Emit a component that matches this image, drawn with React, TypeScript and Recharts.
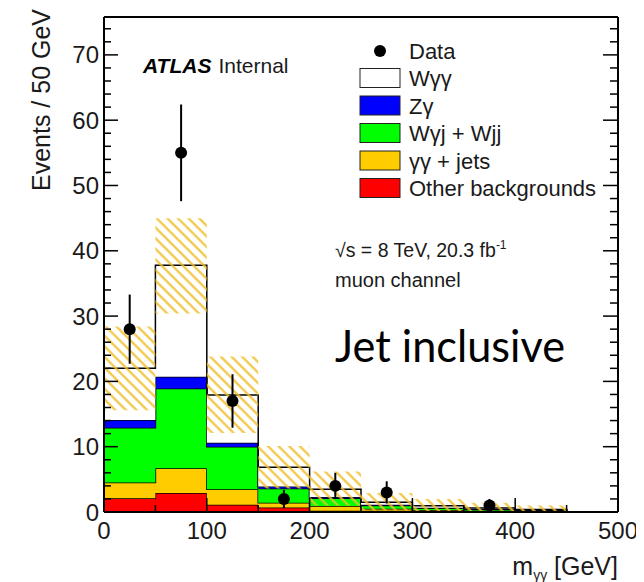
import { ComposedChart, Area, Scatter, ErrorBar, XAxis, YAxis } from "recharts";

// bins of 50 GeV, stacked backgrounds (component values, not cumulative)
const binEdges = [0, 50, 100, 150, 200, 250, 300, 350, 400, 450, 500];
const otherBkg = [2.1, 2.9, 1.1, 0.7, 0.2, 0.2, 0.1, 0.05, 0.03, 0];
const ggJets = [2.4, 3.8, 2.4, 0.7, 0.7, 0.3, 0.2, 0.15, 0.07, 0];
const wgjWjj = [8.4, 12.2, 6.5, 2.2, 1.2, 0.5, 0.3, 0.2, 0.15, 0];
const zGamma = [1.2, 1.8, 0.6, 0.3, 0.2, 0.1, 0.05, 0.05, 0.05, 0];
const wGG = [7.9, 17.1, 7.3, 2.95, 1.2, 0.4, 0.3, 0.15, 0.1, 0];
const bandLow = [15.6, 30.4, 12.1, 3.6, 1.0, 0.2, 0, 0, 0, 0];
const bandHigh = [28.4, 45.0, 23.8, 10.1, 6.2, 2.9, 2.0, 1.4, 1.0, 0];

// data points
const dataX = [25, 75, 125, 175, 225, 275, 375];
const dataY = [28, 55, 17, 2, 4, 3, 1];
const dataErr = [5.3, 7.4, 4.1, 1.4, 2.0, 1.7, 1.0];

const xTicks = [0, 50, 100, 150, 200, 250, 300, 350, 400, 450, 500];
const yTicks = [
  0, 2, 4, 6, 8, 10, 12, 14, 16, 18, 20, 22, 24, 26, 28, 30, 32, 34, 36, 38,
  40, 42, 44, 46, 48, 50, 52, 54, 56, 58, 60, 62, 64, 66, 68, 70, 72, 74,
];
const Y_MAX = 75.8;

const legendItems = [
  { name: "Wγγ", color: "#ffffff" },
  { name: "Zγ", color: "#0000ff" },
  { name: "Wγj + Wjj", color: "#00ff00" },
  { name: "γγ + jets", color: "#ffcc00" },
  { name: "Other backgrounds", color: "#ff0000" },
];

const FONT = "'Liberation Sans', Arial, Helvetica, sans-serif";
const INK = "#1a1a1a";

// histogram rows at bin edges; closing edge repeats the last bin
const rows = binEdges.map((x, i) => {
  const j = Math.min(i, otherBkg.length - 1);
  return {
    x,
    other: otherBkg[j],
    gg: ggJets[j],
    wgj: wgjWjj[j],
    zg: zGamma[j],
    wgg: wGG[j],
    band: [bandLow[j], bandHigh[j]],
  };
});

const points = dataX.map((x, i) => ({ x, y: dataY[i], err: dataErr[i] }));

const BottomTick = ({ x, y, payload }: any) => {
  const major = payload.value % 100 === 0;
  return (
    <g>
      <line x1={x} y1={y} x2={x} y2={y - (major ? 14 : 7)} stroke="#000" strokeWidth={1.5} />
      {major && (
        <text x={x} y={y + 27} textAnchor="middle" fontSize={24} fontFamily={FONT} fill={INK}>
          {payload.value}
        </text>
      )}
    </g>
  );
};

const TopTick = ({ x, y, payload }: any) => {
  const major = payload.value % 100 === 0;
  return <line x1={x} y1={y} x2={x} y2={y + (major ? 14 : 7)} stroke="#000" strokeWidth={1.5} />;
};

const LeftTick = ({ x, y, payload }: any) => {
  const major = payload.value % 10 === 0;
  return (
    <g>
      <line x1={x} y1={y} x2={x + (major ? 14 : 7)} y2={y} stroke="#000" strokeWidth={1.5} />
      {major && (
        <text x={x - 5} y={y + 8.5} textAnchor="end" fontSize={24} fontFamily={FONT} fill={INK}>
          {payload.value}
        </text>
      )}
    </g>
  );
};

const RightTick = ({ x, y, payload }: any) => {
  const major = payload.value % 10 === 0;
  return <line x1={x} y1={y} x2={x - (major ? 15 : 8)} y2={y} stroke="#000" strokeWidth={1.5} />;
};

const DataDot = ({ cx, cy }: any) => <circle cx={cx} cy={cy} r={6} fill="#000" />;

export default function App() {
  return (
    <div style={{ position: "relative", width: 636, height: 574 }}>
      <ComposedChart
        width={636}
        height={574}
        data={rows}
        margin={{ top: 8, right: 25, bottom: 0, left: 0 }}
      >
        <defs>
          <pattern
            id="hatch"
            patternUnits="userSpaceOnUse"
            width={7.5}
            height={7.5}
            patternTransform="rotate(-45)"
          >
            <line x1={1.5} y1={0} x2={1.5} y2={7.5} stroke="#f0bf2c" strokeWidth={2.2} strokeOpacity={0.9} />
          </pattern>
        </defs>
        <XAxis
          dataKey="x"
          type="number"
          domain={[0, 500]}
          ticks={xTicks}
          interval={0}
          tickSize={0}
          tickMargin={0}
          tickLine={false}
          tick={(p: any) => <BottomTick {...p} />}
          axisLine={{ stroke: "#000", strokeWidth: 2 }}
          height={70}
          allowDataOverflow
        />
        <XAxis
          xAxisId="top"
          orientation="top"
          type="number"
          domain={[0, 500]}
          ticks={xTicks}
          interval={0}
          tickSize={0}
          tickMargin={0}
          tickLine={false}
          tick={(p: any) => <TopTick {...p} />}
          axisLine={{ stroke: "#000", strokeWidth: 2 }}
          height={1}
          allowDataOverflow
        />
        <YAxis
          type="number"
          domain={[0, Y_MAX]}
          ticks={yTicks}
          interval={0}
          tickSize={0}
          tickMargin={0}
          tickLine={false}
          tick={(p: any) => <LeftTick {...p} />}
          axisLine={{ stroke: "#000", strokeWidth: 2 }}
          width={96}
          allowDataOverflow
        />
        <YAxis
          yAxisId="right"
          orientation="right"
          type="number"
          domain={[0, Y_MAX]}
          ticks={yTicks}
          interval={0}
          tickSize={0}
          tickMargin={0}
          tickLine={false}
          tick={(p: any) => <RightTick {...p} />}
          axisLine={{ stroke: "#000", strokeWidth: 2 }}
          width={1}
          allowDataOverflow
        />

        <Area type="stepAfter" dataKey="other" stackId="s" fill="#ff0000" fillOpacity={1} stroke="#000" strokeWidth={1.5} dot={false} activeDot={false} isAnimationActive={false} />
        <Area type="stepAfter" dataKey="gg" stackId="s" fill="#ffcc00" fillOpacity={1} stroke="#000" strokeWidth={1.5} dot={false} activeDot={false} isAnimationActive={false} />
        <Area type="stepAfter" dataKey="wgj" stackId="s" fill="#00ff00" fillOpacity={1} stroke="#000" strokeWidth={1.5} dot={false} activeDot={false} isAnimationActive={false} />
        <Area type="stepAfter" dataKey="zg" stackId="s" fill="#0000ff" fillOpacity={1} stroke="#000" strokeWidth={1.5} dot={false} activeDot={false} isAnimationActive={false} />
        <Area type="stepAfter" dataKey="wgg" stackId="s" fill="#ffffff" fillOpacity={1} stroke="#000" strokeWidth={1.5} dot={false} activeDot={false} isAnimationActive={false} />
        <Area type="stepAfter" dataKey="band" fill="url(#hatch)" fillOpacity={1} stroke="none" dot={false} activeDot={false} isAnimationActive={false} />

        <Scatter data={points} dataKey="y" shape={(p: any) => <DataDot {...p} />} isAnimationActive={false}>
          <ErrorBar dataKey="err" direction="y" width={0} stroke="#000" strokeWidth={2} />
        </Scatter>
      </ComposedChart>

      <svg
        width={636}
        height={574}
        style={{ position: "absolute", left: 0, top: 0, pointerEvents: "none" }}
      >
        <text
          transform="translate(42 92) rotate(-90)"
          textAnchor="middle"
          fontSize={25}
          fontFamily={FONT}
          fill={INK}
        >
          Events / 50 GeV
        </text>
        <text x={610} y={567} textAnchor="end" fontSize={25} fontFamily={FONT} fill={INK}>
          m<tspan fontSize={14} dy={5}>γγ</tspan>
          <tspan dy={-5}> [GeV]</tspan>
        </text>

        <text x={135} y={65} fontSize={21} fontFamily={FONT} fill="#000">
          <tspan fontWeight="bold" fontStyle="italic">ATLAS</tspan>
          <tspan dx={7} fill={INK}>Internal</tspan>
        </text>
        <text x={327} y={249} fontSize={19.5} fontFamily={FONT} fill={INK}>
          √s = 8 TeV, 20.3 fb<tspan fontSize={12} dy={-8}>-1</tspan>
        </text>
        <text x={327} y={279} fontSize={20} fontFamily={FONT} fill={INK}>
          muon channel
        </text>
        <text
          x={327}
          y={354}
          fontSize={44}
          fontFamily="Lato, 'Open Sans', sans-serif"
          fill="#000"
          textLength={230}
          lengthAdjust="spacingAndGlyphs"
        >
          Jet inclusive
        </text>

        <circle cx={372} cy={43} r={6} fill="#000" />
        <text x={401} y={51} fontSize={22} fontFamily={FONT} fill={INK}>
          Data
        </text>
        {legendItems.map((item, i) => {
          const cy = 70 + i * 27.5;
          return (
            <g key={item.name}>
              <rect x={352} y={cy - 9.5} width={40} height={19} fill={item.color} stroke="#222" strokeWidth={1} />
              <text x={401} y={cy + 8} fontSize={22} fontFamily={FONT} fill={INK}>
                {item.name}
              </text>
            </g>
          );
        })}
      </svg>
    </div>
  );
}
